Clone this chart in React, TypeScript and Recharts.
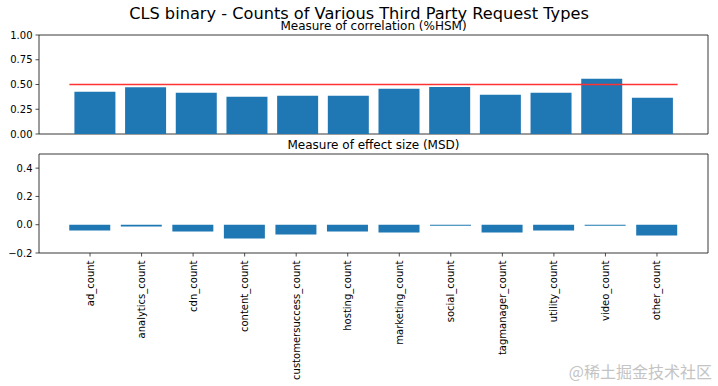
import React from 'react';
import { BarChart, Bar, XAxis, YAxis, ReferenceLine, ReferenceArea } from 'recharts';

const categories = [
  'ad_count', 'analytics_count', 'cdn_count', 'content_count', 'customersuccess_count',
  'hosting_count', 'marketing_count', 'social_count', 'tagmanager_count', 'utility_count',
  'video_count', 'other_count',
];
const hsmValues = [0.426, 0.473, 0.416, 0.376, 0.386, 0.386, 0.456, 0.476, 0.396, 0.416, 0.557, 0.366];
const msdValues = [-0.041, -0.012, -0.048, -0.098, -0.069, -0.048, -0.055, -0.007, -0.055, -0.041, -0.007, -0.076];
const hsmThreshold = 0.5;
const hsmTicks = [0, 0.25, 0.5, 0.75, 1];
const msdTicks = [-0.2, 0, 0.2, 0.4];

const suptitle = 'CLS binary - Counts of Various Third Party Request Types';
const topTitle = 'Measure of correlation (%HSM)';
const bottomTitle = 'Measure of effect size (MSD)';
const watermark = '@稀土掘金技术社区';

const FONT = '"DejaVu Sans", sans-serif';
const BLUE = '#1f77b4';
const SPINE = '#222';

const topData = categories.map((c, i) => ({ x: i, name: c, v: hsmValues[i] }));
const bottomData = categories.map((c, i) => ({ x: i, name: c, v: msdValues[i] }));

const fmtMinus = (v: number, d: number) => (v < 0 ? '\u2212' + Math.abs(v).toFixed(d) : v.toFixed(d));

const XTick = (props: any) => {
  const { x, y, payload } = props;
  const label = categories[Math.round(payload.value)] ?? '';
  return (
    <g transform={`translate(${x},${y + 2})`}>
      <text transform="rotate(-90)" textAnchor="end" dy="0.35em" fontSize={10} fontFamily={FONT} fill="#000">
        {label}
      </text>
    </g>
  );
};

export default function App() {
  return (
    <div style={{ position: 'absolute', left: 0, top: 0, width: 718, height: 386, background: '#fff', overflow: 'hidden' }}>
      <div style={{ position: 'absolute', left: 0, top: 0 }}>
        <BarChart width={718} height={140} data={topData} margin={{ top: 35, right: 10, left: 0, bottom: 6 }}>
          <XAxis dataKey="x" type="number" domain={[-1.1, 12.1]} hide allowDataOverflow />
          <YAxis
            type="number"
            domain={[0, 1]}
            ticks={hsmTicks}
            width={39}
            tickSize={3.5}
            tickMargin={3}
            axisLine={false}
            tickLine={{ stroke: SPINE, strokeWidth: 0.8 }}
            tick={{ fontSize: 10, fontFamily: FONT, fill: '#000' }}
            tickFormatter={(v: number) => v.toFixed(2)}
            allowDataOverflow
          />
          <Bar dataKey="v" fill={BLUE} barSize={41} isAnimationActive={false} />
          <ReferenceLine
            segment={[{ x: -0.5, y: hsmThreshold }, { x: 11.5, y: hsmThreshold }]}
            stroke="#f33"
            strokeWidth={1.6}
          />
          <ReferenceArea x1={-1.1} x2={12.1} y1={0} y2={1} fill="none" stroke={SPINE} strokeWidth={0.9} />
        </BarChart>
      </div>
      <div style={{ position: 'absolute', left: 0, top: 140 }}>
        <BarChart width={718} height={246} data={bottomData} margin={{ top: 14, right: 10, left: 0, bottom: 0 }}>
          <XAxis
            dataKey="x"
            type="number"
            domain={[-0.99, 11.99]}
            ticks={categories.map((_, i) => i)}
            height={133}
            tickSize={3.5}
            tickMargin={2}
            axisLine={false}
            tickLine={{ stroke: SPINE, strokeWidth: 0.8 }}
            tick={<XTick />}
            interval={0}
            allowDataOverflow
          />
          <YAxis
            type="number"
            domain={[-0.2, 0.5]}
            ticks={msdTicks}
            width={39}
            tickSize={3.5}
            tickMargin={3}
            axisLine={false}
            tickLine={{ stroke: SPINE, strokeWidth: 0.8 }}
            tick={{ fontSize: 10, fontFamily: FONT, fill: '#000' }}
            tickFormatter={(v: number) => fmtMinus(v, 1)}
            allowDataOverflow
          />
          <Bar dataKey="v" fill={BLUE} barSize={41} isAnimationActive={false} />
          <ReferenceArea x1={-0.99} x2={11.99} y1={-0.2} y2={0.5} fill="none" stroke={SPINE} strokeWidth={0.9} />
        </BarChart>
      </div>
      <svg width={718} height={386} style={{ position: 'absolute', left: 0, top: 0, pointerEvents: 'none' }}>
        <text x={359} y={18.5} textAnchor="middle" fontSize={16.2} fontFamily={FONT} fill="#000">{suptitle}</text>
        <text x={373.5} y={29.5} textAnchor="middle" fontSize={12} fontFamily={FONT} fill="#000">{topTitle}</text>
        <text x={373.5} y={149} textAnchor="middle" fontSize={12} fontFamily={FONT} fill="#000">{bottomTitle}</text>
        <text x={712} y={378} textAnchor="end" fontSize={16} fontFamily={'"Noto Sans CJK SC", sans-serif'} fill="#c4c4c4">{watermark}</text>
      </svg>
    </div>
  );
}
